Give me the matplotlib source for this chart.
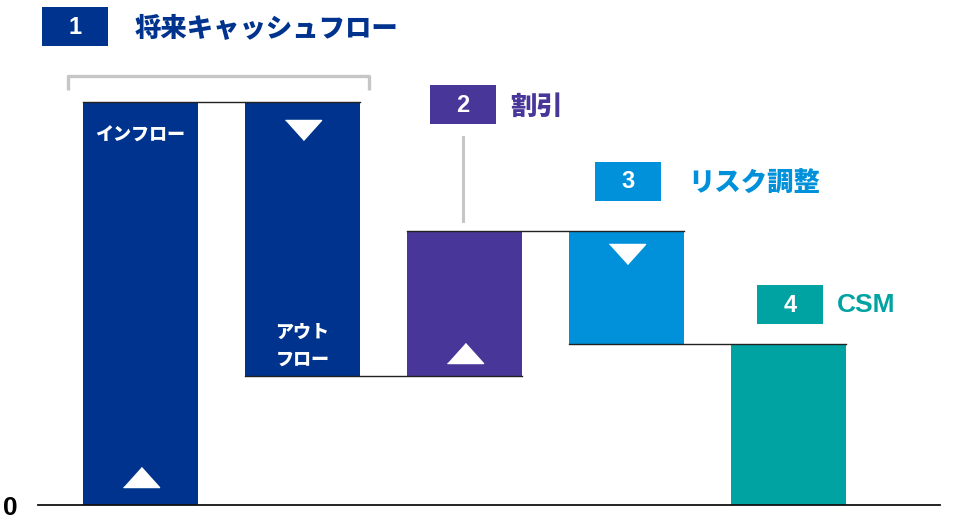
import matplotlib
matplotlib.use("Agg")
import matplotlib.pyplot as plt
from matplotlib.patches import Rectangle
import numpy as np

plt.rcParams['font.family'] = ['Noto Sans CJK JP', 'DejaVu Sans']

# waterfall steps
steps = ['インフロー', 'アウト\nフロー', '割引', 'リスク調整', 'CSM']
deltas = [100, -68, 36, -28, 40]
colors = ['#00338D', '#00338D', '#483698', '#0091DA', '#00A3A1']
tri_off = [7, 7, 5.7, 5.7, None]

# numbered headings
head_nums = ['1', '2', '3', '4']
head_text = ['将来キャッシュフロー', '割引', 'リスク調整', 'CSM']
head_cols = ['#00338D', '#483698', '#0091DA', '#00A3A1']
head_box_px = [(42, 7), (430, 85), (595, 162), (757, 285)]
head_gap_px = [93, 80, 93, 80]

W, H = 963, 519
fig = plt.figure(figsize=(W / 100, H / 100), dpi=100)
ax = fig.add_axes([0, 0, 1, 1])
px_per_x, px_per_y = 162.0, 4.03
x0_px, y0_px = 140.5, 505
ax.set_xlim(-x0_px / px_per_x, (W - x0_px) / px_per_x)
ax.set_ylim(-(H - y0_px) / px_per_y, y0_px / px_per_y)
ax.axis('off')

# bars
bottoms, tops = [], []
level = 0
for i, d in enumerate(deltas):
    if i == len(deltas) - 1:
        b, t = 0, d
    else:
        b, t = min(level, level + d), max(level, level + d)
        level += d
    bottoms.append(b)
    tops.append(t)
x = np.arange(len(deltas))
bw = 115 / px_per_x
ax.bar(x, np.array(tops) - np.array(bottoms), bottom=bottoms, width=bw,
       color=colors, zorder=2)

# connectors
lvl = np.cumsum(deltas[:-1])
for i in range(len(lvl)):
    ax.plot([x[i] - bw / 2, x[i + 1] + bw / 2], [lvl[i], lvl[i]],
            color='#222222', lw=1.0, zorder=3)

# triangles
up = [(-18, -10), (18, -10), (0, 10)]
dn = [(-18, 10), (18, 10), (0, -10)]
for i, d in enumerate(deltas[:-1]):
    if d > 0:
        ax.plot(x[i], bottoms[i] + tri_off[i], marker=up, ms=26,
                color='white', zorder=4)
    else:
        ax.plot(x[i], tops[i] - tri_off[i], marker=dn, ms=26,
                color='white', zorder=4)

# in-bar labels
ax.text(x[0], tops[0] - 8.2, steps[0], color='white', fontsize=13,
        fontweight='heavy', ha='center', va='center', zorder=5)
ax.text(x[1], bottoms[1] + 7.5, steps[1], color='white', fontsize=13,
        fontweight='heavy', ha='center', va='center', linespacing=1.5,
        zorder=5)

# baseline
ax.axhline(0, xmin=38 / W, xmax=940 / W, color='#111111', lw=1.3, zorder=3)

# decoration overlay in pixel coordinates
deco = fig.add_axes([0, 0, 1, 1])
deco.set_xlim(0, W)
deco.set_ylim(H, 0)
deco.axis('off')
deco.patch.set_alpha(0)

deco.text(10, 508, '0', fontsize=19, fontweight='bold',
          family='Liberation Sans', ha='center', va='center')

# bracket over inflow/outflow
deco.plot([68, 68, 369, 369], [90, 76, 76, 90], color='#C6C6C6', lw=2.4,
          solid_joinstyle='round', solid_capstyle='butt')
# connector from discount box
deco.plot([463, 463], [137, 221], color='#C6C6C6', lw=2.2)

for num, txt, col, (bx, by), gap in zip(head_nums, head_text, head_cols,
                                        head_box_px, head_gap_px):
    deco.add_patch(Rectangle((bx, by), 66, 39, color=col, lw=0))
    deco.text(bx + 33, by + 20, num, color='white', fontsize=17,
              fontweight='bold', family='Liberation Sans',
              ha='center', va='center')
    if txt == 'CSM':
        deco.text(bx + gap, by + 20, txt, color=col, fontsize=19,
                  fontweight='bold', family='Liberation Sans',
                  ha='left', va='center')
    else:
        deco.text(bx + gap, by + 22, txt, color=col, fontsize=19,
                  fontweight='heavy', ha='left', va='center')

fig.savefig('out.png', dpi=100)
